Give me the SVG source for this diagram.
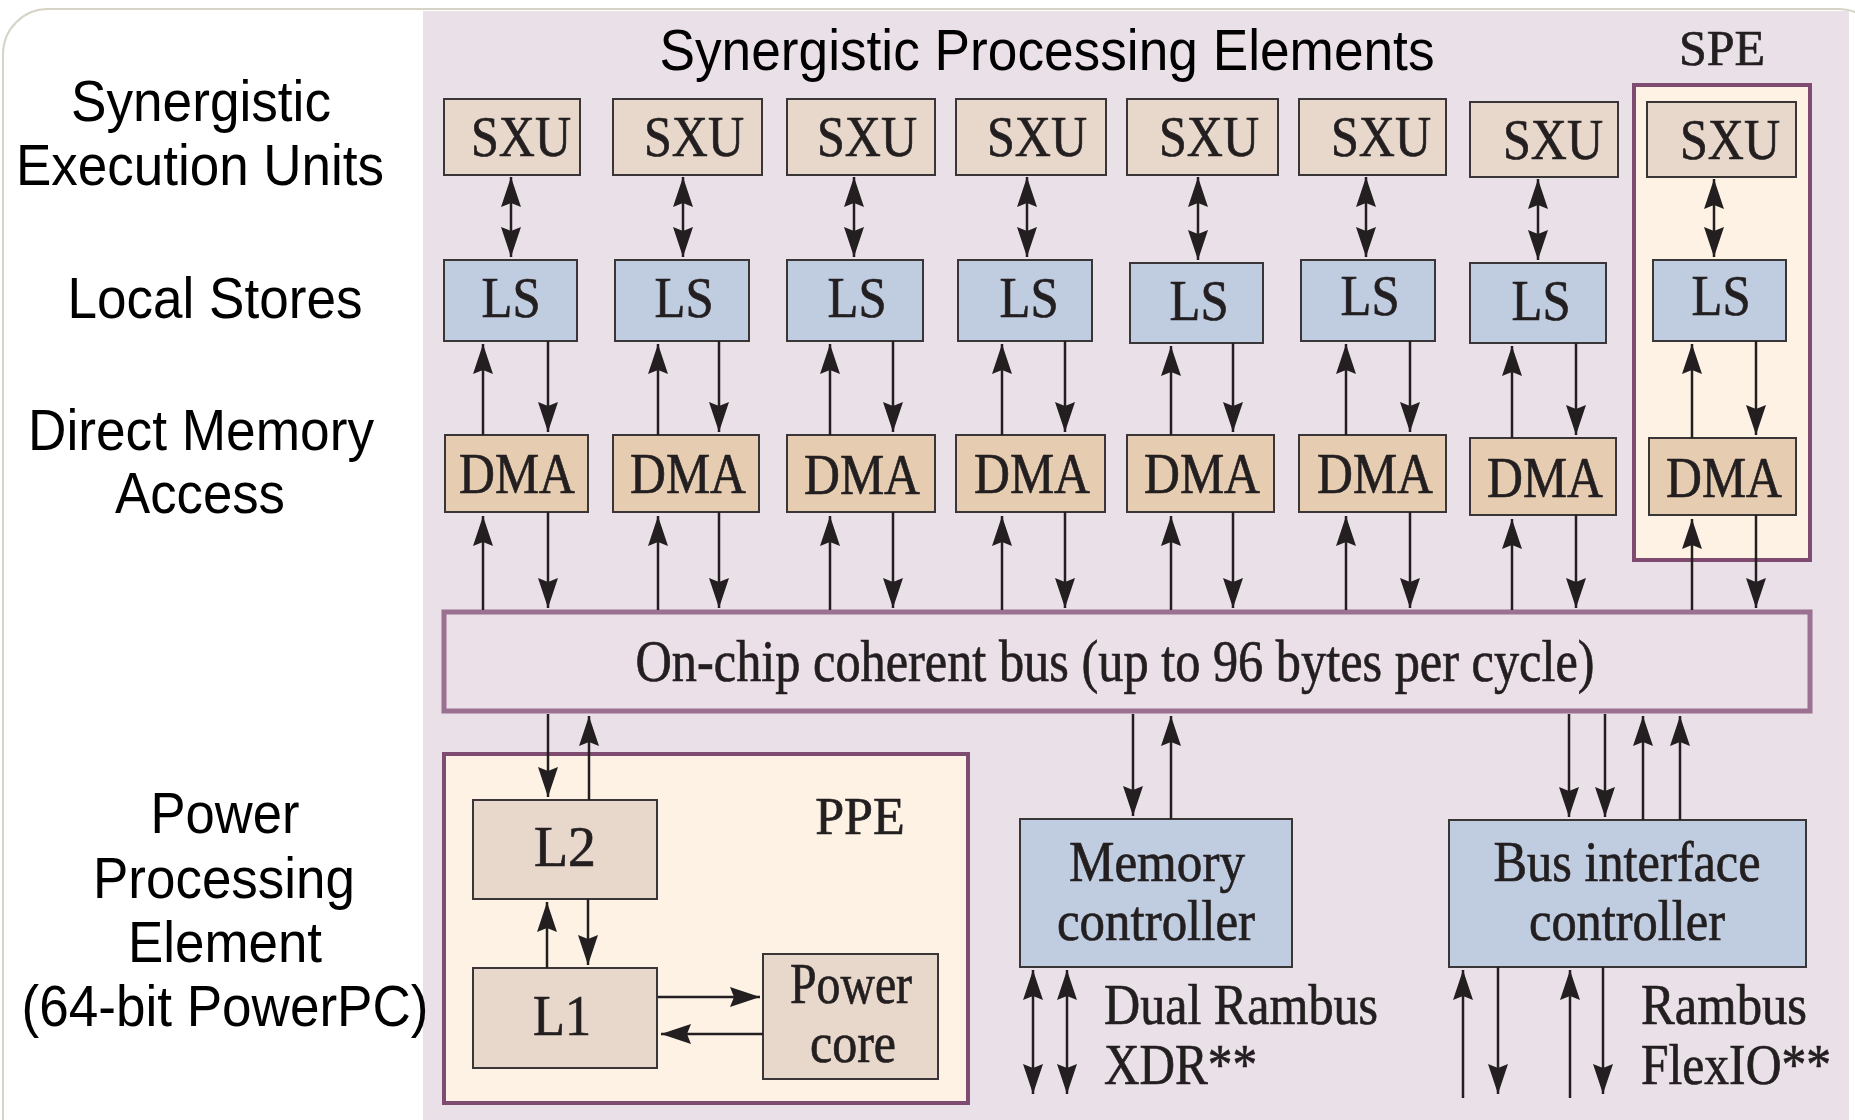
<svg xmlns="http://www.w3.org/2000/svg" width="1855" height="1120" viewBox="0 0 1855 1120">
  <style>
    .lbl { font-family: "Liberation Sans", Arial, sans-serif; font-size: 57px; fill: #000; text-anchor: middle; }
    .ser { font-family: "Liberation Serif", "Times New Roman", serif; font-size: 56px; fill: #231F20; stroke: #231F20; stroke-width: 0.7px; text-anchor: middle; }
    .serl { font-family: "Liberation Serif", "Times New Roman", serif; font-size: 56px; fill: #231F20; stroke: #231F20; stroke-width: 0.7px; }
    .box { stroke: #3A3638; stroke-width: 2; }
    .sxu { fill: #E8D8CB; }
    .ls { fill: #C0CCE0; }
    .dma { fill: #E6CDB1; }
    .cache { fill: #E8D8CB; }
    .ctl { fill: #C0CCE0; }
    .cont { fill: #FDF2E4; stroke: #7D4C70; stroke-width: 4; }
    .bus { fill: #EBE0E7; stroke: #9B7192; stroke-width: 5; }
    .ln { stroke: #231F20; stroke-width: 2.5; fill: none; }
  </style>
  <defs>
    <marker id="ah" markerUnits="userSpaceOnUse" markerWidth="30" markerHeight="20" refX="30" refY="10" orient="auto-start-reverse">
      <path d="M0,0 L30,10 L0,20 L4,10 z" fill="#231F20"/>
    </marker>
  </defs>

  <!-- page frame and chip area -->
  <rect x="3" y="9" width="1880" height="1160" rx="45" fill="#FFFFFF" stroke="#D6D4C6" stroke-width="2"/>
  <rect x="423" y="11" width="1426" height="1109" fill="#EAE0E7"/>

  <!-- row captions -->
  <g id="captions">
    <text class="lbl" x="201" y="121" textLength="260" lengthAdjust="spacingAndGlyphs">Synergistic</text>
    <text class="lbl" x="200" y="185" textLength="368" lengthAdjust="spacingAndGlyphs">Execution Units</text>
    <text class="lbl" x="215" y="318" textLength="295" lengthAdjust="spacingAndGlyphs">Local Stores</text>
    <text class="lbl" x="201" y="450" textLength="346" lengthAdjust="spacingAndGlyphs">Direct Memory</text>
    <text class="lbl" x="200" y="513" textLength="170" lengthAdjust="spacingAndGlyphs">Access</text>
    <text class="lbl" x="225" y="833" textLength="149" lengthAdjust="spacingAndGlyphs">Power</text>
    <text class="lbl" x="224" y="898" textLength="262" lengthAdjust="spacingAndGlyphs">Processing</text>
    <text class="lbl" x="225" y="962" textLength="194" lengthAdjust="spacingAndGlyphs">Element</text>
    <text class="lbl" x="225" y="1026" textLength="407" lengthAdjust="spacingAndGlyphs">(64-bit PowerPC)</text>
    <text class="lbl" x="1047" y="70" textLength="775" lengthAdjust="spacingAndGlyphs">Synergistic Processing Elements</text>
  </g>

  <!-- highlighted SPE -->
  <g id="spe">
    <rect class="cont" x="1634" y="85" width="176" height="475"/>
    <text class="ser" x="1722" y="65" style="font-size:50px">SPE</text>
  </g>

  <!-- SXU row -->
  <g id="sxu-1"><rect class="box sxu" x="444" y="99" width="136" height="76"/><text class="ser" x="521" y="156" textLength="100" lengthAdjust="spacingAndGlyphs">SXU</text></g>
  <g id="sxu-2"><rect class="box sxu" x="613" y="99" width="149" height="76"/><text class="ser" x="694" y="156" textLength="100" lengthAdjust="spacingAndGlyphs">SXU</text></g>
  <g id="sxu-3"><rect class="box sxu" x="787" y="99" width="148" height="76"/><text class="ser" x="867" y="156" textLength="100" lengthAdjust="spacingAndGlyphs">SXU</text></g>
  <g id="sxu-4"><rect class="box sxu" x="956" y="99" width="150" height="76"/><text class="ser" x="1037" y="156" textLength="100" lengthAdjust="spacingAndGlyphs">SXU</text></g>
  <g id="sxu-5"><rect class="box sxu" x="1127" y="99" width="151" height="76"/><text class="ser" x="1209" y="156" textLength="100" lengthAdjust="spacingAndGlyphs">SXU</text></g>
  <g id="sxu-6"><rect class="box sxu" x="1299" y="99" width="147" height="76"/><text class="ser" x="1381" y="156" textLength="100" lengthAdjust="spacingAndGlyphs">SXU</text></g>
  <g id="sxu-7"><rect class="box sxu" x="1470" y="102" width="148" height="75"/><text class="ser" x="1553" y="159" textLength="100" lengthAdjust="spacingAndGlyphs">SXU</text></g>
  <g id="sxu-8"><rect class="box sxu" x="1647" y="102" width="149" height="75"/><text class="ser" x="1730" y="159" textLength="100" lengthAdjust="spacingAndGlyphs">SXU</text></g>

  <!-- Local store row -->
  <g id="ls-1"><rect class="box ls" x="444" y="260" width="133" height="81"/><text class="ser" x="511" y="317" textLength="59" lengthAdjust="spacingAndGlyphs">LS</text></g>
  <g id="ls-2"><rect class="box ls" x="615" y="260" width="134" height="81"/><text class="ser" x="684" y="317" textLength="59" lengthAdjust="spacingAndGlyphs">LS</text></g>
  <g id="ls-3"><rect class="box ls" x="787" y="260" width="136" height="81"/><text class="ser" x="857" y="317" textLength="59" lengthAdjust="spacingAndGlyphs">LS</text></g>
  <g id="ls-4"><rect class="box ls" x="958" y="260" width="134" height="81"/><text class="ser" x="1029" y="317" textLength="59" lengthAdjust="spacingAndGlyphs">LS</text></g>
  <g id="ls-5"><rect class="box ls" x="1130" y="263" width="133" height="80"/><text class="ser" x="1199" y="320" textLength="59" lengthAdjust="spacingAndGlyphs">LS</text></g>
  <g id="ls-6"><rect class="box ls" x="1301" y="260" width="134" height="81"/><text class="ser" x="1370" y="315" textLength="59" lengthAdjust="spacingAndGlyphs">LS</text></g>
  <g id="ls-7"><rect class="box ls" x="1470" y="263" width="136" height="80"/><text class="ser" x="1541" y="320" textLength="59" lengthAdjust="spacingAndGlyphs">LS</text></g>
  <g id="ls-8"><rect class="box ls" x="1653" y="260" width="133" height="81"/><text class="ser" x="1721" y="315" textLength="59" lengthAdjust="spacingAndGlyphs">LS</text></g>

  <!-- DMA row -->
  <g id="dma-1"><rect class="box dma" x="445" y="435" width="143" height="77"/><text class="ser" x="517" y="493" textLength="116" lengthAdjust="spacingAndGlyphs">DMA</text></g>
  <g id="dma-2"><rect class="box dma" x="613" y="435" width="146" height="77"/><text class="ser" x="688" y="493" textLength="116" lengthAdjust="spacingAndGlyphs">DMA</text></g>
  <g id="dma-3"><rect class="box dma" x="787" y="435" width="148" height="77"/><text class="ser" x="862" y="494" textLength="116" lengthAdjust="spacingAndGlyphs">DMA</text></g>
  <g id="dma-4"><rect class="box dma" x="956" y="435" width="149" height="77"/><text class="ser" x="1032" y="493" textLength="116" lengthAdjust="spacingAndGlyphs">DMA</text></g>
  <g id="dma-5"><rect class="box dma" x="1127" y="435" width="147" height="77"/><text class="ser" x="1202" y="493" textLength="116" lengthAdjust="spacingAndGlyphs">DMA</text></g>
  <g id="dma-6"><rect class="box dma" x="1299" y="435" width="147" height="77"/><text class="ser" x="1375" y="493" textLength="116" lengthAdjust="spacingAndGlyphs">DMA</text></g>
  <g id="dma-7"><rect class="box dma" x="1470" y="438" width="146" height="77"/><text class="ser" x="1545" y="497" textLength="116" lengthAdjust="spacingAndGlyphs">DMA</text></g>
  <g id="dma-8"><rect class="box dma" x="1649" y="438" width="147" height="77"/><text class="ser" x="1724" y="497" textLength="116" lengthAdjust="spacingAndGlyphs">DMA</text></g>

  <!-- element interconnect bus -->
  <g id="bus">
    <rect class="bus" x="444" y="612" width="1366" height="99"/>
    <text class="ser" x="1115" y="681" style="font-size:60px" textLength="959" lengthAdjust="spacingAndGlyphs">On-chip coherent bus (up to 96 bytes per cycle)</text>
  </g>

  <!-- PPE -->
  <g id="ppe">
    <rect class="cont" x="444" y="754" width="524" height="349"/>
    <text class="ser" x="860" y="834" style="font-size:52px">PPE</text>
  </g>
  <g id="l2"><rect class="box cache" x="473" y="800" width="184" height="99"/><text class="ser" x="565" y="866" textLength="62" lengthAdjust="spacingAndGlyphs">L2</text></g>
  <g id="l1"><rect class="box cache" x="473" y="968" width="184" height="100"/><text class="ser" x="562" y="1035" textLength="58" lengthAdjust="spacingAndGlyphs">L1</text></g>
  <g id="power-core"><rect class="box cache" x="763" y="954" width="175" height="125"/>
    <text class="ser" x="851" y="1003" textLength="122" lengthAdjust="spacingAndGlyphs">Power</text>
    <text class="ser" x="853" y="1062" textLength="86" lengthAdjust="spacingAndGlyphs">core</text></g>

  <!-- controllers -->
  <g id="memory-controller"><rect class="box ctl" x="1020" y="819" width="272" height="148"/>
    <text class="ser" x="1157" y="881" textLength="176" lengthAdjust="spacingAndGlyphs">Memory</text>
    <text class="ser" x="1156" y="940" textLength="198" lengthAdjust="spacingAndGlyphs">controller</text></g>
  <g id="bus-interface-controller"><rect class="box ctl" x="1449" y="820" width="357" height="147"/>
    <text class="ser" x="1627" y="881" textLength="267" lengthAdjust="spacingAndGlyphs">Bus interface</text>
    <text class="ser" x="1627" y="940" textLength="196" lengthAdjust="spacingAndGlyphs">controller</text></g>

  <!-- external interface captions -->
  <g id="xdr-label">
    <text class="serl" x="1104" y="1024" textLength="274" lengthAdjust="spacingAndGlyphs">Dual Rambus</text>
    <text class="serl" x="1104" y="1084" textLength="153" lengthAdjust="spacingAndGlyphs">XDR**</text>
  </g>
  <g id="flexio-label">
    <text class="serl" x="1641" y="1024" textLength="166" lengthAdjust="spacingAndGlyphs">Rambus</text>
    <text class="serl" x="1641" y="1084" textLength="190" lengthAdjust="spacingAndGlyphs">FlexIO**</text>
  </g>

  <!-- connectors -->
  <g id="connectors" class="ln">
    <!-- SXU <-> LS -->
    <line x1="511" y1="177" x2="511" y2="257" marker-start="url(#ah)" marker-end="url(#ah)"/>
    <line x1="683" y1="177" x2="683" y2="257" marker-start="url(#ah)" marker-end="url(#ah)"/>
    <line x1="854" y1="177" x2="854" y2="257" marker-start="url(#ah)" marker-end="url(#ah)"/>
    <line x1="1027" y1="177" x2="1027" y2="257" marker-start="url(#ah)" marker-end="url(#ah)"/>
    <line x1="1198" y1="177" x2="1198" y2="260" marker-start="url(#ah)" marker-end="url(#ah)"/>
    <line x1="1366" y1="177" x2="1366" y2="257" marker-start="url(#ah)" marker-end="url(#ah)"/>
    <line x1="1538" y1="179" x2="1538" y2="260" marker-start="url(#ah)" marker-end="url(#ah)"/>
    <line x1="1714" y1="179" x2="1714" y2="257" marker-start="url(#ah)" marker-end="url(#ah)"/>

    <!-- DMA -> LS (up) and LS -> DMA (down) -->
    <line x1="483" y1="435" x2="483" y2="344" marker-end="url(#ah)"/>
    <line x1="548" y1="341" x2="548" y2="432" marker-end="url(#ah)"/>
    <line x1="658" y1="435" x2="658" y2="344" marker-end="url(#ah)"/>
    <line x1="719" y1="341" x2="719" y2="432" marker-end="url(#ah)"/>
    <line x1="830" y1="435" x2="830" y2="344" marker-end="url(#ah)"/>
    <line x1="893" y1="341" x2="893" y2="432" marker-end="url(#ah)"/>
    <line x1="1002" y1="435" x2="1002" y2="344" marker-end="url(#ah)"/>
    <line x1="1065" y1="341" x2="1065" y2="432" marker-end="url(#ah)"/>
    <line x1="1171" y1="435" x2="1171" y2="346" marker-end="url(#ah)"/>
    <line x1="1233" y1="343" x2="1233" y2="432" marker-end="url(#ah)"/>
    <line x1="1346" y1="435" x2="1346" y2="344" marker-end="url(#ah)"/>
    <line x1="1410" y1="341" x2="1410" y2="432" marker-end="url(#ah)"/>
    <line x1="1512" y1="438" x2="1512" y2="346" marker-end="url(#ah)"/>
    <line x1="1576" y1="343" x2="1576" y2="435" marker-end="url(#ah)"/>
    <line x1="1692" y1="438" x2="1692" y2="344" marker-end="url(#ah)"/>
    <line x1="1756" y1="341" x2="1756" y2="435" marker-end="url(#ah)"/>

    <!-- bus -> DMA (up) and DMA -> bus (down) -->
    <line x1="483" y1="610" x2="483" y2="516" marker-end="url(#ah)"/>
    <line x1="548" y1="512" x2="548" y2="608" marker-end="url(#ah)"/>
    <line x1="658" y1="610" x2="658" y2="516" marker-end="url(#ah)"/>
    <line x1="719" y1="512" x2="719" y2="608" marker-end="url(#ah)"/>
    <line x1="830" y1="610" x2="830" y2="516" marker-end="url(#ah)"/>
    <line x1="893" y1="512" x2="893" y2="608" marker-end="url(#ah)"/>
    <line x1="1002" y1="610" x2="1002" y2="516" marker-end="url(#ah)"/>
    <line x1="1065" y1="512" x2="1065" y2="608" marker-end="url(#ah)"/>
    <line x1="1171" y1="610" x2="1171" y2="516" marker-end="url(#ah)"/>
    <line x1="1233" y1="512" x2="1233" y2="608" marker-end="url(#ah)"/>
    <line x1="1346" y1="610" x2="1346" y2="516" marker-end="url(#ah)"/>
    <line x1="1410" y1="512" x2="1410" y2="608" marker-end="url(#ah)"/>
    <line x1="1512" y1="610" x2="1512" y2="519" marker-end="url(#ah)"/>
    <line x1="1576" y1="515" x2="1576" y2="608" marker-end="url(#ah)"/>
    <line x1="1692" y1="610" x2="1692" y2="519" marker-end="url(#ah)"/>
    <line x1="1756" y1="515" x2="1756" y2="608" marker-end="url(#ah)"/>

    <!-- bus <-> L2 -->
    <line x1="548" y1="714" x2="548" y2="797" marker-end="url(#ah)"/>
    <line x1="589" y1="800" x2="589" y2="716" marker-end="url(#ah)"/>
    <!-- L1 <-> L2 -->
    <line x1="547" y1="968" x2="547" y2="902" marker-end="url(#ah)"/>
    <line x1="588" y1="899" x2="588" y2="965" marker-end="url(#ah)"/>
    <!-- L1 <-> power core -->
    <line x1="658" y1="997" x2="760" y2="997" marker-end="url(#ah)"/>
    <line x1="763" y1="1034" x2="661" y2="1034" marker-end="url(#ah)"/>

    <!-- bus <-> memory controller -->
    <line x1="1133" y1="714" x2="1133" y2="816" marker-end="url(#ah)"/>
    <line x1="1171" y1="819" x2="1171" y2="716" marker-end="url(#ah)"/>
    <!-- XDR links -->
    <line x1="1033" y1="970" x2="1033" y2="1094" marker-start="url(#ah)" marker-end="url(#ah)"/>
    <line x1="1067" y1="970" x2="1067" y2="1094" marker-start="url(#ah)" marker-end="url(#ah)"/>

    <!-- bus <-> bus interface controller -->
    <line x1="1569" y1="714" x2="1569" y2="817" marker-end="url(#ah)"/>
    <line x1="1605" y1="714" x2="1605" y2="817" marker-end="url(#ah)"/>
    <line x1="1643" y1="820" x2="1643" y2="716" marker-end="url(#ah)"/>
    <line x1="1680" y1="820" x2="1680" y2="716" marker-end="url(#ah)"/>
    <!-- FlexIO links -->
    <line x1="1463" y1="1098" x2="1463" y2="970" marker-end="url(#ah)"/>
    <line x1="1498" y1="967" x2="1498" y2="1094" marker-end="url(#ah)"/>
    <line x1="1570" y1="1098" x2="1570" y2="970" marker-end="url(#ah)"/>
    <line x1="1603" y1="967" x2="1603" y2="1094" marker-end="url(#ah)"/>
  </g>
</svg>
